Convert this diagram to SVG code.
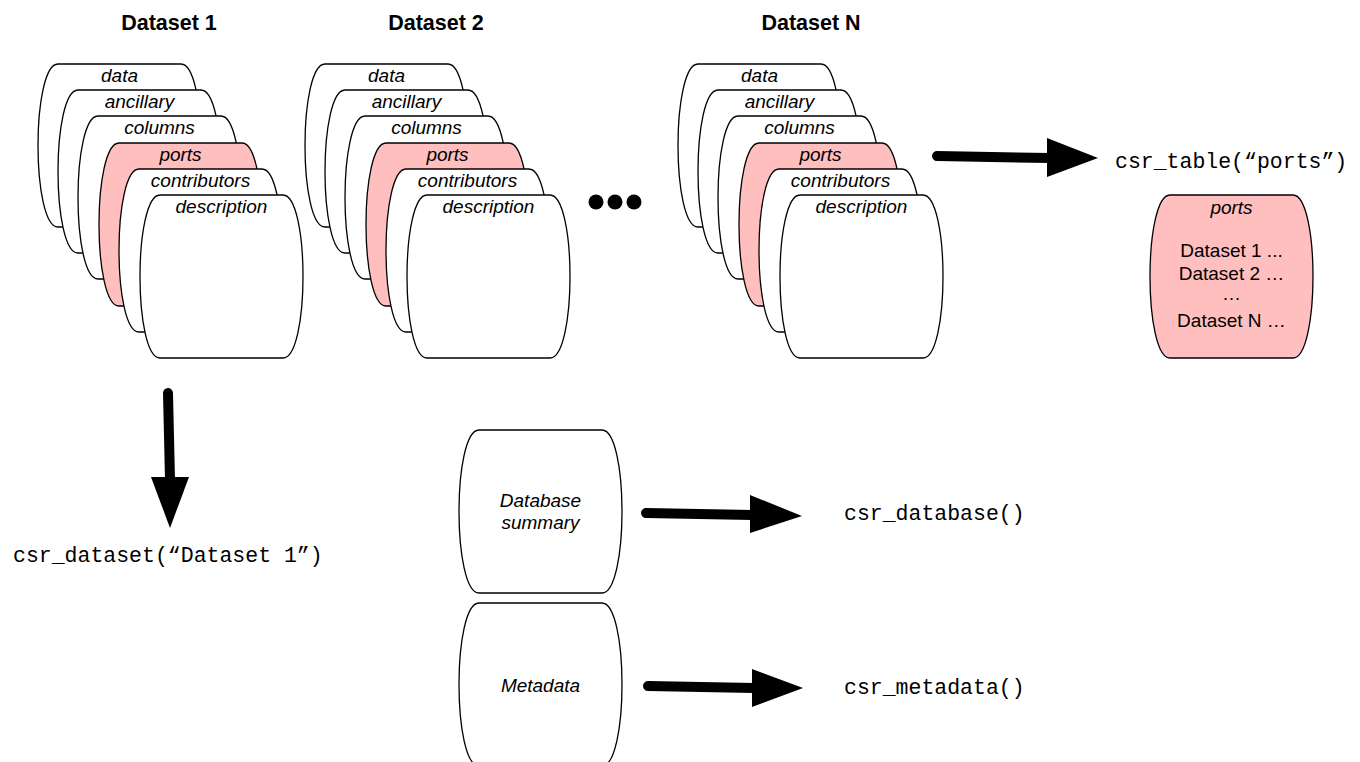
<svg xmlns="http://www.w3.org/2000/svg" xmlns:xlink="http://www.w3.org/1999/xlink" width="1360" height="762" viewBox="0 0 1360 762">
<style>
.tb{fill:#fff;stroke:#000;stroke-width:1.3}
.pk{fill:#FFBFBF;stroke:#000;stroke-width:1.3}
.lb{font-family:"Liberation Sans",Arial,sans-serif;font-size:19px;font-style:italic;text-anchor:middle;fill:#000}
.tx{font-family:"Liberation Sans",Arial,sans-serif;font-size:19px;text-anchor:middle;fill:#000}
.ti{font-family:"Liberation Sans",Arial,sans-serif;font-size:21.5px;font-weight:bold;text-anchor:middle;fill:#000}
.mono{font-family:"Liberation Mono","Courier New",monospace;font-size:21.5px;fill:#000}
.shaft{stroke:#000;stroke-width:10;stroke-linecap:round;fill:none}
.head{fill:#000}
</style>
<defs>
<path id="tbl" d="M20,0 H143 C156,0 163,40 163,81.5 C163,123 156,163 143,163 H20 C7,163 0,123 0,81.5 C0,40 7,0 20,0 Z"/>
</defs>

<g id="dataset1">
<text class="ti" x="169" y="30">Dataset 1</text>
<g id="d1-data"><use href="#tbl" class="tb" x="38" y="64"/><text class="lb" x="119.5" y="82">data</text></g>
<g id="d1-ancillary"><use href="#tbl" class="tb" x="58" y="90"/><text class="lb" x="139.5" y="108">ancillary</text></g>
<g id="d1-columns"><use href="#tbl" class="tb" x="78" y="116"/><text class="lb" x="159.5" y="134">columns</text></g>
<g id="d1-ports"><use href="#tbl" class="pk" x="99" y="143"/><text class="lb" x="180.5" y="161">ports</text></g>
<g id="d1-contributors"><use href="#tbl" class="tb" x="119" y="169"/><text class="lb" x="200.5" y="187">contributors</text></g>
<g id="d1-description"><use href="#tbl" class="tb" x="140" y="195"/><text class="lb" x="221.5" y="213">description</text></g>
</g>

<g id="dataset2" transform="translate(267,0)">
<text class="ti" x="169" y="30">Dataset 2</text>
<g id="d2-data"><use href="#tbl" class="tb" x="38" y="64"/><text class="lb" x="119.5" y="82">data</text></g>
<g id="d2-ancillary"><use href="#tbl" class="tb" x="58" y="90"/><text class="lb" x="139.5" y="108">ancillary</text></g>
<g id="d2-columns"><use href="#tbl" class="tb" x="78" y="116"/><text class="lb" x="159.5" y="134">columns</text></g>
<g id="d2-ports"><use href="#tbl" class="pk" x="99" y="143"/><text class="lb" x="180.5" y="161">ports</text></g>
<g id="d2-contributors"><use href="#tbl" class="tb" x="119" y="169"/><text class="lb" x="200.5" y="187">contributors</text></g>
<g id="d2-description"><use href="#tbl" class="tb" x="140" y="195"/><text class="lb" x="221.5" y="213">description</text></g>
</g>

<g id="ellipsis">
<circle cx="596" cy="202" r="7.5"/>
<circle cx="615" cy="202" r="7.5"/>
<circle cx="634" cy="202" r="7.5"/>
</g>

<g id="datasetN" transform="translate(640,0)">
<text class="ti" x="171" y="30">Dataset N</text>
<g id="dN-data"><use href="#tbl" class="tb" x="38" y="64"/><text class="lb" x="119.5" y="82">data</text></g>
<g id="dN-ancillary"><use href="#tbl" class="tb" x="58" y="90"/><text class="lb" x="139.5" y="108">ancillary</text></g>
<g id="dN-columns"><use href="#tbl" class="tb" x="78" y="116"/><text class="lb" x="159.5" y="134">columns</text></g>
<g id="dN-ports"><use href="#tbl" class="pk" x="99" y="143"/><text class="lb" x="180.5" y="161">ports</text></g>
<g id="dN-contributors"><use href="#tbl" class="tb" x="119" y="169"/><text class="lb" x="200.5" y="187">contributors</text></g>
<g id="dN-description"><use href="#tbl" class="tb" x="140" y="195"/><text class="lb" x="221.5" y="213">description</text></g>
</g>

<g id="ports-table">
<use href="#tbl" class="pk" x="1150" y="195"/>
<text class="lb" x="1231.5" y="214">ports</text>
<text class="tx" x="1231.5" y="257">Dataset 1 ...</text>
<text class="tx" x="1231.5" y="280">Dataset 2 …</text>
<text class="tx" x="1231.5" y="300">…</text>
<text class="tx" x="1231.5" y="327">Dataset N …</text>
</g>

<g id="database-summary">
<use href="#tbl" class="tb" x="459" y="430"/>
<text class="lb" x="540.5" y="507">Database</text>
<text class="lb" x="540.5" y="529">summary</text>
</g>

<g id="metadata">
<use href="#tbl" class="tb" x="459" y="603"/>
<text class="lb" x="540.5" y="692">Metadata</text>
</g>

<g id="labels">
<text class="mono" x="1115" y="168">csr_table(“ports”)</text>
<text class="mono" x="13" y="562">csr_dataset(“Dataset 1”)</text>
<text class="mono" x="844" y="520">csr_database()</text>
<text class="mono" x="844" y="694">csr_metadata()</text>
</g>

<g id="connectors">
<line class="shaft" x1="937" y1="156" x2="1050" y2="158"/>
<polygon class="head" points="1047,138 1098,158 1047,177"/>
<line class="shaft" x1="168" y1="393" x2="170" y2="480"/>
<polygon class="head" points="151,477 189,477 170,528"/>
<line class="shaft" x1="646" y1="513" x2="752" y2="515"/>
<polygon class="head" points="750,495 802,516 750,533"/>
<line class="shaft" x1="648" y1="686" x2="754" y2="688"/>
<polygon class="head" points="752,669 803,688 752,707"/>
</g>
</svg>
